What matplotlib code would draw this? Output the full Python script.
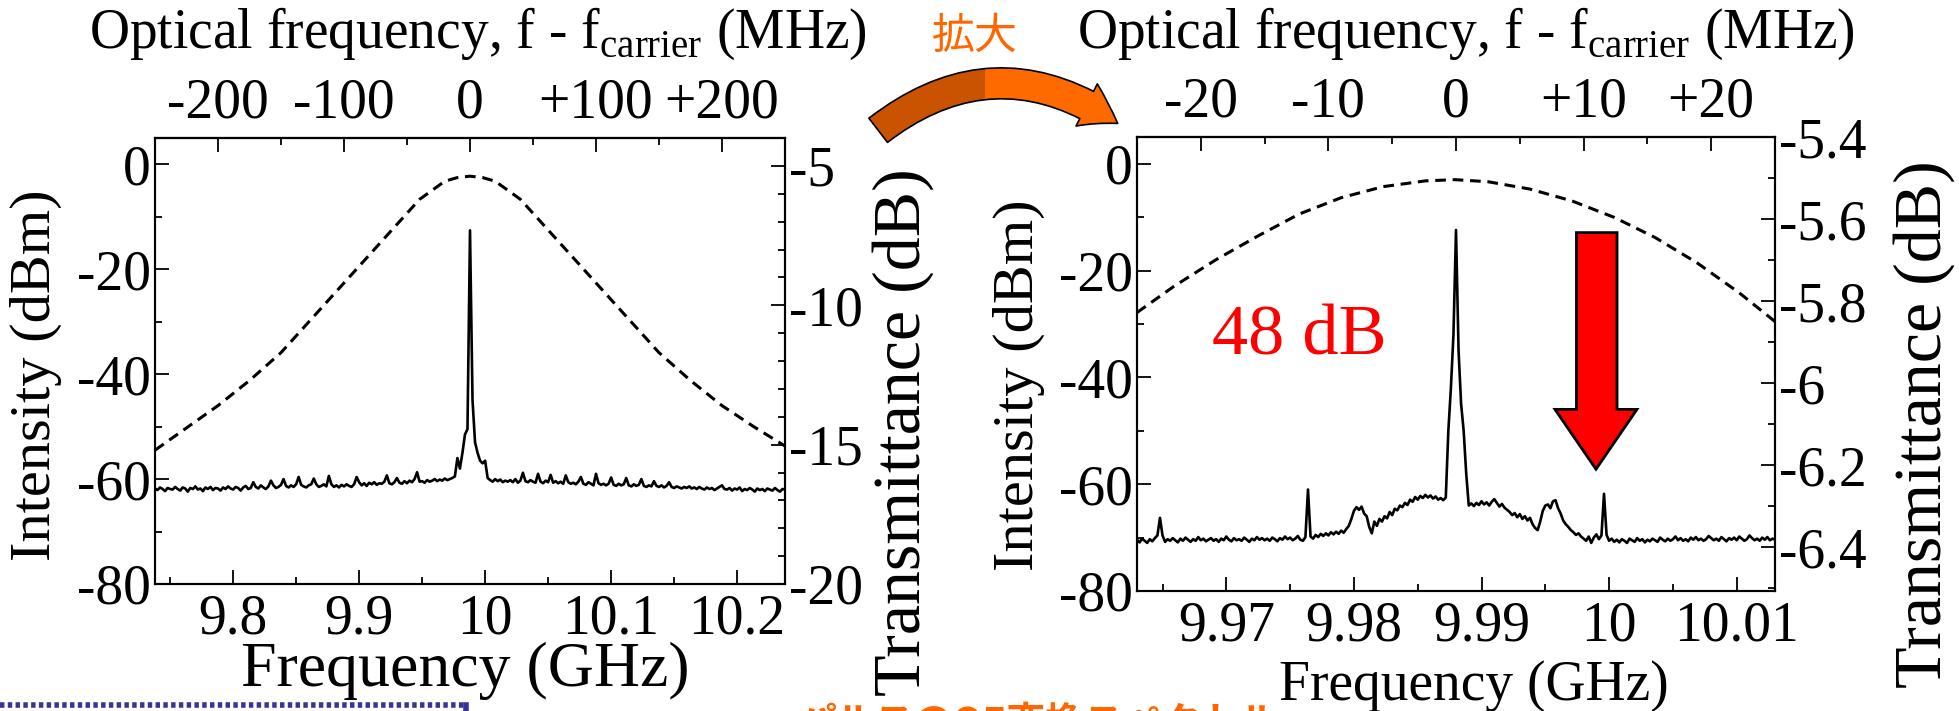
import numpy as np
import matplotlib.pyplot as plt
from matplotlib.patches import Polygon, FancyArrowPatch, Rectangle
from matplotlib.lines import Line2D
from matplotlib.ticker import MultipleLocator, FormatStrFormatter

plt.rcParams['font.family'] = ['Liberation Serif', 'Noto Sans CJK JP']
plt.rcParams['mathtext.fontset'] = 'custom'
plt.rcParams['mathtext.rm'] = 'Liberation Serif'
plt.rcParams['axes.unicode_minus'] = False

F_CARRIER = 9.988  # GHz, zero of the top axis

# ---- wide span (left panel), sweep 9.738 - 10.238 GHz ----
wide_f_start, wide_f_stop = 9.738, 10.238
wide_psd = [
    -61.8, -62.1, -61.6, -61.9, -62.3, -61.7, -61.9, -62.0, -61.5, -61.9,
    -62.2, -61.6, -61.8, -62.4, -61.7, -61.9, -61.4, -62.0, -61.8, -62.3,
    -61.6, -61.9, -61.5, -62.1, -61.7, -61.8, -62.2, -61.6, -61.9, -61.4,
    -61.8, -62.0, -61.5, -61.7, -62.2, -61.6, -61.3, -61.9, -61.7, -60.6,
    -61.5, -61.8, -61.2, -61.6, -61.9, -61.4, -60.3, -61.2, -61.7, -61.5,
    -61.1, -60.0, -61.3, -61.6, -61.2, -61.5, -61.0, -59.6, -61.1, -61.4,
    -61.6, -61.2, -61.0, -59.9, -61.0, -61.5, -61.3, -61.0, -61.4, -59.4,
    -61.0, -61.5, -61.2, -61.6, -61.1, -61.4, -61.0, -61.3, -61.5, -61.0,
    -59.6, -60.6, -61.2, -60.8, -61.3, -60.7, -61.0, -60.6, -61.1, -60.8,
    -60.9, -60.5, -59.3, -60.8, -61.0, -60.6, -59.8, -60.7, -60.9, -60.4,
    -60.8, -60.3, -60.6, -60.0, -58.7, -60.5, -60.4, -60.7, -60.2, -60.5,
    -60.3, -60.0, -60.4, -60.1, -60.3, -59.9, -60.2, -60.0, -59.8, -59.5,
    -56.0, -58.0, -55.0, -51.5, -50.5, -12.6, -45.0, -53.0, -55.0, -56.5,
    -57.0, -56.5, -59.8, -60.2, -60.5, -60.0, -60.4, -60.1, -60.6, -60.3,
    -60.5, -60.2, -60.6, -60.0, -60.7, -60.3, -58.8, -60.4, -60.6, -60.2,
    -60.5, -60.7, -59.0, -60.5, -60.8, -60.3, -60.6, -59.2, -60.7, -60.4,
    -60.8, -60.5, -60.9, -59.3, -60.6, -60.9, -60.7, -61.0, -60.5, -59.6,
    -60.9, -61.1, -60.6, -60.9, -61.2, -59.0, -60.8, -61.1, -60.9, -61.2,
    -60.9, -59.7, -61.1, -61.3, -60.9, -61.2, -61.0, -59.8, -61.2, -61.4,
    -61.0, -61.3, -61.1, -60.0, -61.3, -61.5, -61.2, -61.4, -60.4, -61.3,
    -61.5, -61.2, -61.6, -61.3, -60.6, -61.5, -61.7, -61.4, -61.6, -61.8,
    -61.5, -61.7, -61.4, -61.8, -61.6, -61.9, -61.5, -61.8, -62.0, -61.6,
    -61.9, -61.7, -62.1, -61.8, -61.5, -61.2, -61.9, -62.0, -61.7, -62.2,
    -61.8, -62.0, -61.6, -62.3, -61.9, -62.1, -61.7, -62.0, -62.4, -61.8,
    -62.1, -61.9, -62.3, -61.8, -62.0, -62.2, -61.7, -62.1, -62.4, -61.9,
    -62.0,
]
wide_trans_f = [9.738, 9.763, 9.788, 9.813, 9.838, 9.868, 9.888, 9.908, 9.928,
                9.948, 9.968, 9.978, 9.988, 9.998, 10.008, 10.028, 10.048,
                10.068, 10.088, 10.108, 10.138, 10.163, 10.188, 10.213, 10.238]
wide_trans_db = [-15.2, -14.4, -13.6, -12.7, -11.7, -10.2, -9.2, -8.2, -7.2,
                 -6.2, -5.55, -5.42, -5.37, -5.42, -5.55, -6.2, -7.2,
                 -8.2, -9.2, -10.2, -11.7, -12.7, -13.6, -14.35, -15.05]

# ---- narrow span (right panel), sweep 9.963 - 10.013 GHz ----
narrow_f_start, narrow_f_stop = 9.963, 10.013
narrow_psd = [
    -70.4, -70.9, -70.2, -70.6, -71.0, -70.3, -70.7, -70.1, -69.6, -66.3,
    -69.6, -70.8, -70.3, -70.6, -70.1, -70.5, -70.9, -70.2, -70.6, -70.0,
    -70.4, -70.8, -70.3, -70.6, -69.9, -70.5, -70.2, -70.7, -70.4, -70.1,
    -70.6, -70.3, -70.8, -70.2, -70.5, -69.8, -70.4, -70.7, -70.1, -70.5,
    -70.3, -70.6, -70.0, -70.4, -70.8, -70.2, -70.5, -69.9, -70.4, -70.1,
    -70.5, -70.2, -70.6, -70.0, -70.3, -70.7, -70.1, -70.4, -69.8, -70.3,
    -70.0, -70.5, -70.2, -69.7, -70.4, -70.6, -69.9,
    -61.0,
    -69.8, -70.2, -69.5, -69.9, -69.3, -69.7, -69.2, -69.6, -69.0, -69.4,
    -68.9, -69.3, -68.7, -69.1, -68.4, -67.8,
    -66.5, -65.0, -64.3, -64.8, -64.2, -65.5, -66.0,
    -68.0, -69.2,
    -67.0, -67.8, -66.5, -67.0, -66.0, -66.4, -65.2, -65.8, -64.6, -64.9,
    -64.0, -64.3, -63.5, -63.9, -62.9, -63.3, -62.4, -62.9, -62.2, -62.6,
    -62.0, -62.5, -62.1, -62.7, -62.3, -62.9, -62.6, -63.0,
    -62.5, -50.0, -42.0, -32.0, -12.4, -35.0, -45.0, -50.0, -58.0, -64.0,
    -63.6, -64.1, -63.5, -63.9, -63.2, -63.8, -63.4, -64.0, -63.3, -62.8,
    -63.5, -64.2, -63.7, -64.4, -64.8,
    -65.2, -65.8, -65.4, -66.2, -65.6, -66.5, -66.0, -66.8, -66.3, -67.5,
    -68.2, -68.6,
    -67.0, -65.0, -64.0, -63.8, -64.5, -63.2, -63.0, -64.5,
    -65.5, -66.8, -67.5, -68.0, -68.6, -69.0, -69.5, -69.2, -69.8, -70.2,
    -70.6, -69.8, -71.0,
    -70.0, -69.4, -70.3, -69.6,
    -61.8,
    -69.5, -70.6, -70.2, -70.8, -70.4, -70.9, -70.3, -70.6, -71.0, -70.2,
    -70.5, -70.8, -70.1, -70.6, -70.3, -70.9, -70.4, -70.7, -70.2, -70.5,
    -70.8, -70.0, -70.4, -70.7, -70.2, -70.6, -70.3, -69.8, -70.5, -70.1,
    -70.6, -70.3, -70.7, -70.0, -70.4, -69.9, -70.5, -70.2, -70.6, -70.3,
    -69.7, -70.1, -70.5, -70.2, -70.6, -69.9, -70.3, -70.7, -70.1, -70.4,
    -70.0, -70.5, -69.8, -70.2, -70.6, -70.3, -69.6, -70.1, -70.5, -70.2,
    -70.6, -70.0, -70.4, -69.9, -70.5, -70.2, -70.4,
]
narrow_trans_f = [9.963, 9.9659, 9.9692, 9.9725, 9.9757, 9.9790, 9.9823,
                  9.9856, 9.9879, 9.9905, 9.9938, 9.9971, 10.0004, 10.0036,
                  10.0069, 10.0102, 10.013]
narrow_trans_db = [-5.828, -5.764, -5.699, -5.641, -5.588, -5.548, -5.521,
                   -5.507, -5.504, -5.509, -5.527, -5.556, -5.596, -5.645,
                   -5.707, -5.780, -5.850]

W, H = 1959, 711
FS = 40  # tick labels and top titles
fig = plt.figure(figsize=(W / 100, H / 100), dpi=100)


def fx(x):
    return x / W


def fy(y):
    return 1 - y / H


def to_mhz(f):
    return (f - F_CARRIER) * 1000.0


def to_ghz(m):
    return m / 1000.0 + F_CARRIER


def make_panel(box, f_start, f_stop, psd, tf, tdb, xmaj, xmin, top_ticks,
               top_minor, tlim, tmaj, tmin, labels):
    left, top, right, bottom = box
    ax = fig.add_axes([fx(left), fy(bottom), fx(right) - fx(left), fy(top) - fy(bottom)])
    freq = np.linspace(f_start, f_stop, len(psd))
    ax.plot(freq, psd, color='black', lw=1.9)
    ax.set_xlim(f_start, f_stop)
    ax.set_ylim(-80, 5)
    ax.yaxis.set_major_locator(MultipleLocator(20))
    ax.yaxis.set_minor_locator(MultipleLocator(10))
    ax.xaxis.set_major_locator(MultipleLocator(xmaj))
    ax.xaxis.set_minor_locator(MultipleLocator(xmin))
    ax.xaxis.set_major_formatter(FormatStrFormatter('%g'))
    ax.tick_params(which='both', direction='in', labelsize=FS, width=1.3,
                   top=False, right=False)
    ax.tick_params(which='major', length=10)
    ax.tick_params(which='minor', length=5)
    ax.tick_params(axis='y', pad=3)
    ax.tick_params(axis='x', pad=7)

    ax2 = ax.twinx()
    ax2.plot(tf, tdb, color='black', lw=2.2, dashes=(3.5, 2.2))
    ax2.set_ylim(*tlim)
    ax2.yaxis.set_major_locator(MultipleLocator(tmaj))
    ax2.yaxis.set_minor_locator(MultipleLocator(tmin))
    ax2.yaxis.set_major_formatter(FormatStrFormatter('%g'))
    ax2.tick_params(which='both', direction='in', labelsize=FS, width=1.3, pad=3)
    ax2.tick_params(which='major', length=10)
    ax2.tick_params(which='minor', length=5)

    sec = ax.secondary_xaxis('top', functions=(to_mhz, to_ghz))
    sec.set_xticks(top_ticks)
    sec.set_xticklabels([('+%d' % t) if t > 0 else ('%d' % t) for t in top_ticks])
    sec.xaxis.set_minor_locator(MultipleLocator(top_minor))
    sec.tick_params(which='both', direction='in', labelsize=FS, width=1.3, pad=6)
    sec.tick_params(which='major', length=10)
    sec.tick_params(which='minor', length=5)

    for a in (ax, ax2, sec):
        for s in a.spines.values():
            s.set_linewidth(1.5)

    # (x, y, fontsize) of each axis label, in figure pixels
    (ylx, yly, ylfs), (trx, try_, trfs), (fqx, fqy, fqfs), (ttx, tty) = labels
    ax.set_ylabel('Intensity (dBm)', fontsize=ylfs, va='center', ha='center')
    ax.yaxis.set_label_coords(fx(ylx), fy(yly), transform=fig.transFigure)
    ax2.set_ylabel('Transmittance (dB)', fontsize=trfs, va='center', ha='center')
    ax2.yaxis.set_label_coords(fx(trx), fy(try_), transform=fig.transFigure)
    ax.set_xlabel('Frequency (GHz)', fontsize=fqfs, va='center', ha='center')
    ax.xaxis.set_label_coords(fx(fqx), fy(fqy), transform=fig.transFigure)
    sec.set_xlabel(r'Optical frequency, f - f$_{\mathrm{carrier}}$ (MHz)',
                   fontsize=FS, va='center', ha='center')
    sec.xaxis.set_label_coords(fx(ttx), fy(tty), transform=fig.transFigure)
    return ax, ax2


axL, axL2 = make_panel((155, 138, 785, 584), wide_f_start, wide_f_stop, wide_psd,
                       wide_trans_f, wide_trans_db, 0.1, 0.05,
                       [-200, -100, 0, 100, 200], 50, (-20, -4), 5, 1,
                       ((36, 375, 42), (903, 432, 49), (465, 671, 46), (478, 34)))
axR, axR2 = make_panel((1137, 137, 1775, 591), narrow_f_start, narrow_f_stop, narrow_psd,
                       narrow_trans_f, narrow_trans_db, 0.01, 0.005,
                       [-20, -10, 0, 10, 20], 5, (-6.507, -5.4), 0.2, 0.1,
                       ((1019, 385, 42), (1924, 424, 49), (1474, 686, 40), (1466, 34)))

# red annotation in the zoomed panel
axR.text(9.9757, -32.5, '48 dB', color='red', fontsize=52, ha='center', va='center')
arrow_x0, arrow_x1, arrow_c = 9.99744, 10.00062, 9.99897
head_l, head_r = 9.99576, 10.00218
arrow_top, head_base, arrow_tip = -12.9, -46.0, -57.2
axR.add_patch(Polygon([(arrow_x0, arrow_top), (arrow_x1, arrow_top), (arrow_x1, head_base),
                       (head_r, head_base), (arrow_c, arrow_tip), (head_l, head_base),
                       (arrow_x0, head_base)], closed=True, facecolor='#ff0000',
                      edgecolor='black', lw=2, zorder=5))

# orange "zoom" arrow between the panels
fig.text(fx(975), fy(37), '拡大', color='#ff6600', fontsize=31,
         family=['Noto Sans CJK JP'], ha='center', va='center')
for color, clip_x in (('#c95300', (0, fx(985))), ('#ff6a00', (fx(985), 1))):
    arr = FancyArrowPatch((fx(876), fy(132)), (fx(1120), fy(125)),
                          transform=fig.transFigure,
                          connectionstyle='arc3,rad=-0.37',
                          arrowstyle='simple,head_length=26,head_width=34,tail_width=22',
                          facecolor=color, edgecolor='black', lw=1.2)
    clip = Rectangle((clip_x[0], 0), clip_x[1] - clip_x[0], 1, transform=fig.transFigure)
    arr.set_clip_path(clip)
    fig.patches.append(arr)

# slide fragments along the bottom edge
fig.add_artist(Line2D([0, fx(466)], [fy(705), fy(705)], transform=fig.transFigure,
                      color='#35359a', lw=4, dashes=(0.8, 0.6)))
fig.add_artist(Line2D([fx(466), fx(466)], [fy(705), fy(712)], transform=fig.transFigure,
                      color='#35359a', lw=4))
fig.text(fx(798), fy(704), 'パルスのOE変換スペクトル', color='#ff6600', fontsize=28,
         fontweight='bold', family=['Noto Sans CJK JP'], ha='left', va='top')

fig.savefig('out.png', dpi=100)
